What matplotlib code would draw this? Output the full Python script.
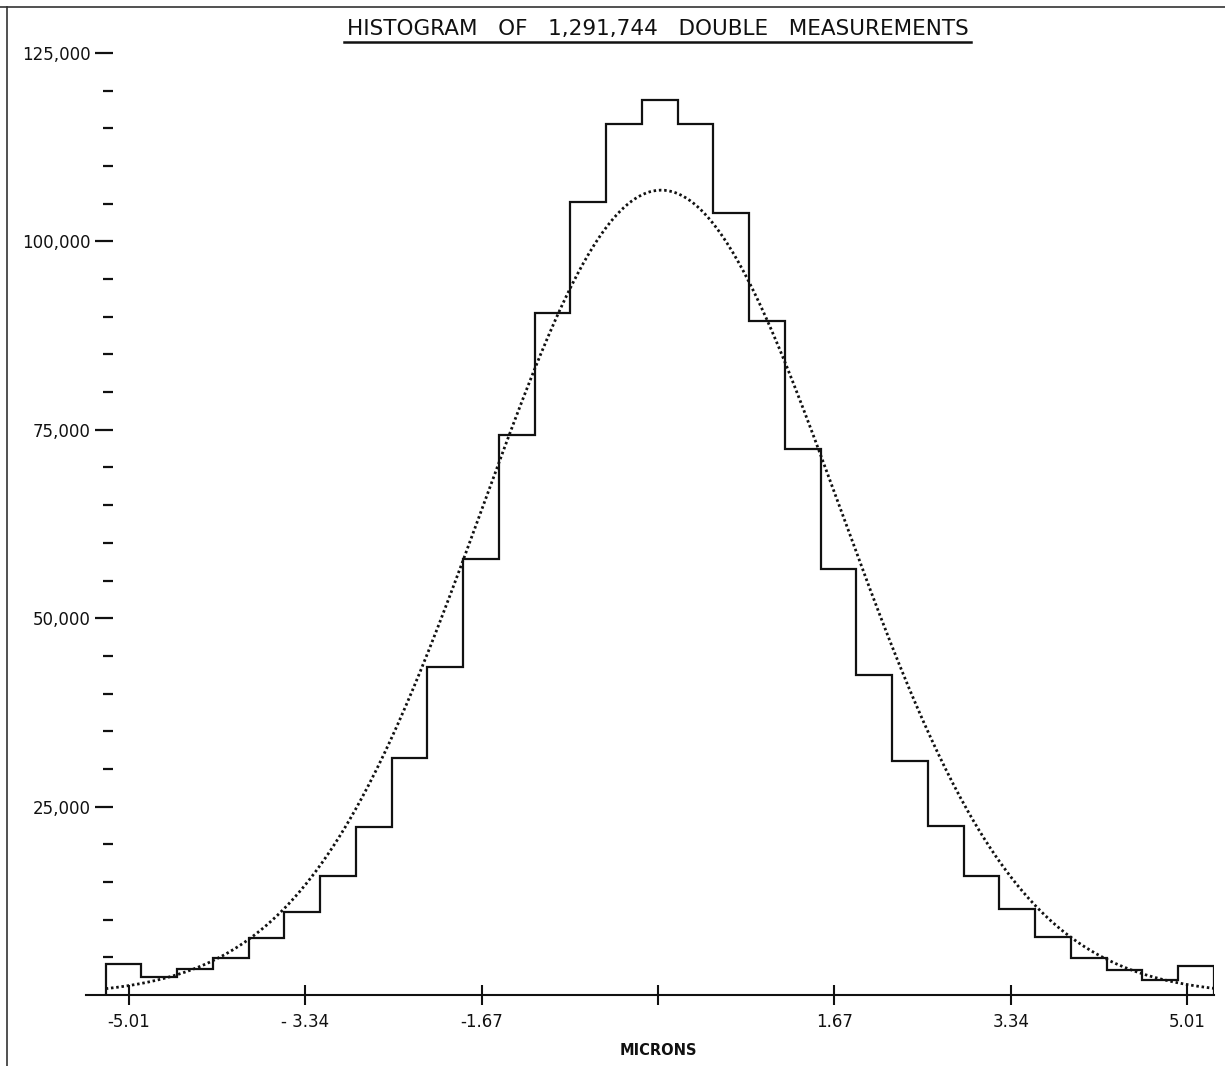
import numpy as np
import matplotlib
matplotlib.use('Agg')
import matplotlib.pyplot as plt
from matplotlib.lines import Line2D
from matplotlib.ticker import FixedLocator, FixedFormatter

# ── data ────────────────────────────────────────────────
bin_counts = [4100, 2350, 3400, 4950, 7550, 11000, 15800, 22300, 31500,
              43500, 57860, 74300, 90500, 105270, 115580, 118730, 115580,
              103720, 89420, 72500, 56530, 42460, 31040, 22480, 15800,
              11400, 7700, 4870, 3300, 2000, 3850]
first_edge = -5.23          # microns
bin_width = 0.3385          # microns

# fitted normal curve drawn dotted on the original
fit_peak = 106800
fit_mean = 0.03
fit_sigma = 1.69

x_ticks = [-5.01, -3.34, -1.67, 0.0, 1.67, 3.34, 5.01]
x_tick_labels = ['-5.01', '- 3.34', '-1.67', '', '1.67', '3.34', '5.01']
y_major = [25000, 50000, 75000, 100000, 125000]
y_major_labels = ['25,000', '50,000', '75,000', '100,000', '125,000']
y_minor = [v for v in range(5000, 125000, 5000) if v % 25000 != 0]

title = 'HISTOGRAM   OF   1,291,744   DOUBLE   MEASUREMENTS'
INK = '#111111'


def main():
    W, H = 1225, 1066
    fig = plt.figure(figsize=(W / 100, H / 100), dpi=100)
    fig.patch.set_facecolor('white')

    # axes placed so the x axis runs from 86 px to 1214 px, zero line at y=995
    left_px, right_px, bottom_px, top_px = 86, 1214, 995, 53
    ax = fig.add_axes([left_px / W, 1 - bottom_px / H,
                       (right_px - left_px) / W, (bottom_px - top_px) / H])

    edges = first_edge + bin_width * np.arange(len(bin_counts) + 1)

    # ── histogram outline ───────────────────────────────
    ax.stairs(bin_counts, edges, baseline=0, fill=False,
              color=INK, lw=1.6)

    # ── fitted normal curve (dotted) ────────────────────
    xs = np.linspace(edges[0], edges[-1], 600)
    ys = fit_peak * np.exp(-0.5 * ((xs - fit_mean) / fit_sigma) ** 2)
    ax.plot(xs, ys, color=INK, lw=2.0, linestyle=(0, (0.9, 1.0)))

    ax.set_xlim(-5.417, 5.265)
    ax.set_ylim(0, 125000)

    # ── spines / ticks ──────────────────────────────────
    for s in ['top', 'right']:
        ax.spines[s].set_visible(False)
    ax.spines['bottom'].set_linewidth(1.5)
    ax.spines['bottom'].set_color(INK)
    ax.spines['left'].set_position(('data', -5.16))
    ax.spines['left'].set_linewidth(0)

    ax.xaxis.set_major_locator(FixedLocator(x_ticks))
    ax.xaxis.set_major_formatter(FixedFormatter(x_tick_labels))
    ax.tick_params(axis='x', direction='inout', length=14, width=1.5,
                   color=INK, labelsize=12, labelcolor=INK, pad=6)

    ax.yaxis.set_major_locator(FixedLocator(y_major))
    ax.yaxis.set_major_formatter(FixedFormatter(y_major_labels))
    ax.yaxis.set_minor_locator(FixedLocator(y_minor))
    ax.tick_params(axis='y', which='major', direction='out', length=13,
                   width=1.6, color=INK, labelsize=12, labelcolor=INK, pad=3)
    ax.tick_params(axis='y', which='minor', direction='out', length=7,
                   width=1.6, color=INK)

    ax.set_xlabel('MICRONS', fontsize=10.5, fontweight='bold', color=INK)
    ax.xaxis.set_label_coords((658 - left_px) / (right_px - left_px),
                              -(1043 - bottom_px) / (bottom_px - top_px))

    # ── title with underline ────────────────────────────
    t = fig.text(657.5 / W, 1 - 35 / H, title, ha='center', va='baseline',
                 fontsize=15.5, color=INK)
    fig.canvas.draw()
    bb = t.get_window_extent().transformed(fig.transFigure.inverted())
    y_line = 1 - 42 / H
    fig.add_artist(Line2D([bb.x0 - 0.002, bb.x1 + 0.002], [y_line, y_line],
                          transform=fig.transFigure, color=INK, lw=1.8))

    # scanned page frame (top and left edges)
    fig.add_artist(Line2D([0, 1], [1 - 7 / H, 1 - 7 / H],
                          transform=fig.transFigure, color='#333333', lw=1.2))
    fig.add_artist(Line2D([7 / W, 7 / W], [0, 1 - 7 / H],
                          transform=fig.transFigure, color='#333333', lw=1.2))

    fig.savefig('out.png', dpi=100, facecolor='white')


if __name__ == '__main__':
    main()
